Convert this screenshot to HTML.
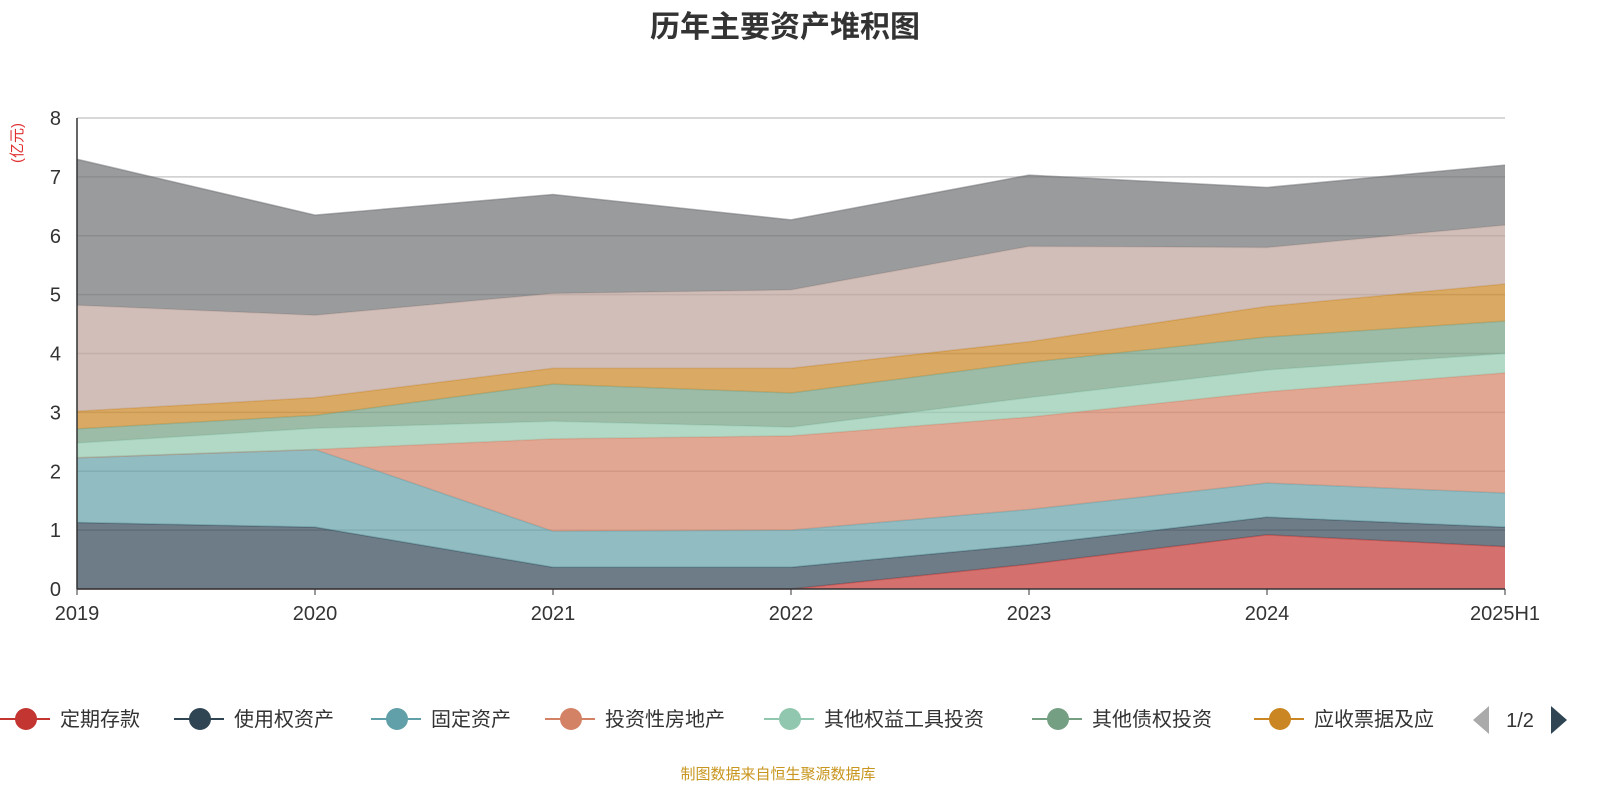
<!DOCTYPE html>
<html><head><meta charset="utf-8">
<style>
body{margin:0;background:#fff;width:1600px;height:800px;overflow:hidden;font-family:"Liberation Sans","Noto Sans CJK SC",sans-serif;}
</style></head>
<body>
<svg id="chart" width="1600" height="800" xmlns="http://www.w3.org/2000/svg" font-family="Liberation Sans, Noto Sans CJK SC, sans-serif">
<text x="785" y="37" text-anchor="middle" font-size="30" font-weight="bold" fill="#333">历年主要资产堆积图</text>
<text transform="translate(22,143) rotate(-90)" text-anchor="middle" font-size="15" fill="#e03030">(亿元)</text>
<g id="grid"></g><g id="areas"></g><g id="axes"></g><g id="legend"></g>
<text x="778" y="779" text-anchor="middle" font-size="15" fill="#c8961e">制图数据来自恒生聚源数据库</text>
</svg>
<script>
const categories=["2019","2020","2021","2022","2023","2024","2025H1"];
const seriesNames=["定期存款","使用权资产","固定资产","投资性房地产","其他权益工具投资","其他债权投资","应收票据及应收账款","其他资产A","其他资产B"];
const s1=[0,0,0,0,0.42,0.92,0.72];
const s2=[1.13,1.05,0.37,0.37,0.33,0.30,0.33];
const s3=[1.10,1.32,0.61,0.63,0.60,0.58,0.58];
const s4=[0,0,1.57,1.60,1.57,1.55,2.04];
const s5=[0.25,0.36,0.30,0.15,0.33,0.37,0.33];
const s6=[0.24,0.22,0.63,0.58,0.60,0.56,0.55];
const s7=[0.30,0.30,0.27,0.42,0.35,0.52,0.63];
const s8=[1.80,1.40,1.27,1.33,1.62,1.00,1.00];
const s9=[2.48,1.70,1.68,1.19,1.21,1.02,1.02];
const yTicks=[0,1,2,3,4,5,6,7,8];
const series=[s1,s2,s3,s4,s5,s6,s7,s8,s9];
const colors=["#c23531","#2f4554","#61a0a8","#d48265","#91c7ae","#749f83","#ca8622","#bda29a","#6e7074"];
const X0=77,X1=1505,Y0=589,Y1=118,YMAX=8;
const x=i=>X0+(X1-X0)*i/(categories.length-1);
const y=v=>Y0-(Y0-Y1)*v/YMAX;
const NS="http://www.w3.org/2000/svg";
function mk(tag,attrs,parent){const e=document.createElementNS(NS,tag);for(const k in attrs)e.setAttribute(k,attrs[k]);parent.appendChild(e);return e;}
const grid=document.getElementById('grid'),areas=document.getElementById('areas'),axes=document.getElementById('axes'),legend=document.getElementById('legend');
yTicks.forEach(t=>{
  if(t>0){const l=mk('line',{x1:X0,x2:X1,y1:y(t),y2:y(t),stroke:'#ccc','stroke-width':1.5},grid);
  
  }
  const tx=mk('text',{x:X0-16,y:y(t)+7,'text-anchor':'end','font-size':20,fill:'#333'},axes);tx.textContent=t;
  
  
});
let base=categories.map(()=>0);
series.forEach((s,si)=>{
  const top=base.map((b,i)=>b+s[i]);
  let d='M'+top.map((v,i)=>x(i)+','+y(v)).join(' L');
  for(let i=categories.length-1;i>=0;i--)d+=' L'+x(i)+','+y(base[i]);
  d+='Z';
  const p=mk('path',{d:d,fill:colors[si],'fill-opacity':0.7,stroke:'none'},areas);
  
  
  const ln=mk('polyline',{points:top.map((v,i)=>x(i)+','+y(v)).join(' '),fill:'none',stroke:colors[si],'stroke-opacity':0.5,'stroke-width':1.5},areas);
  
  
  base=top;
});
mk('line',{x1:X0,x2:X0,y1:Y1,y2:Y0,stroke:'#333','stroke-width':1.5},axes);
mk('line',{x1:X0,x2:X1,y1:Y0,y2:Y0,stroke:'#333','stroke-width':1.5},axes);
categories.forEach((c,i)=>{
  mk('line',{x1:x(i),x2:x(i),y1:Y0,y2:Y0+6,stroke:'#333'},axes);
  const t=mk('text',{x:x(i),y:Y0+31,'text-anchor':'middle','font-size':20,fill:'#333'},axes);t.textContent=c;
  
  
});
const legX=[3,177,374,548,767,1035,1257];
const legLabels=["定期存款","使用权资产","固定资产","投资性房地产","其他权益工具投资","其他债权投资","应收票据及应"];
legLabels.forEach((lab,i)=>{
  const g=mk('g',{},legend);
  
  
  const lx=legX[i];
  mk('line',{x1:lx-3,x2:lx+47,y1:719,y2:719,stroke:colors[i],'stroke-width':2},g);
  mk('circle',{cx:lx+23,cy:719,r:11,fill:colors[i]},g);
  const t=mk('text',{x:lx+57,y:726,'font-size':20,fill:'#333'},g);t.textContent=lab;
});
const pp=mk('polygon',{points:'1489,706 1489,734 1473,720',fill:'#aaa'},legend);


const pt=mk('text',{x:1520,y:727,'text-anchor':'middle','font-size':20,fill:'#333'},legend);pt.textContent='1/2';


const pn=mk('polygon',{points:'1551,706 1551,734 1567,720',fill:'#2f4554'},legend);


</script>
</body></html>
